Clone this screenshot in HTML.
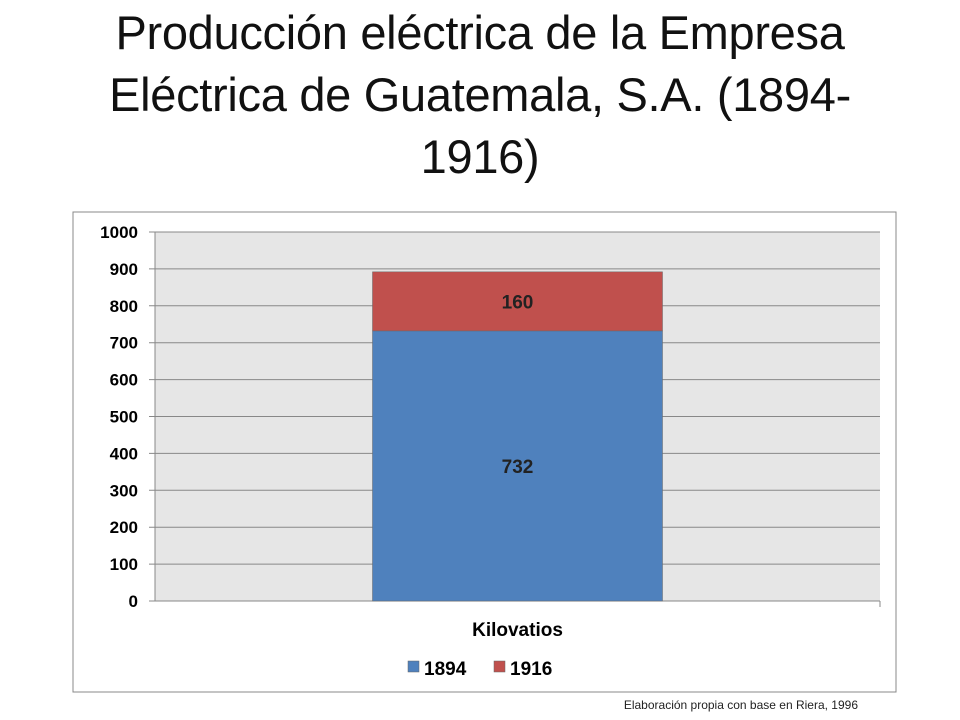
<!DOCTYPE html>
<html><head><meta charset="utf-8"><style>
body{margin:0;background:#fff;width:960px;height:720px;overflow:hidden;font-family:"Liberation Sans",sans-serif}
#title{position:absolute;left:0;top:2px;width:960px;text-align:center;font-size:47px;line-height:62px;color:#111;letter-spacing:-0.3px}
</style></head><body>
<div id="title">Producción eléctrica de la Empresa<br>Eléctrica de Guatemala, S.A. (1894-<br>1916)</div>
<svg id="chart" width="960" height="720" style="position:absolute;left:0;top:0"></svg>
<script>
const categories=["Kilovatios"];
const seriesNames=["1894","1916"];
const series1894=[732];
const series1916=[160];
const yTicks=[0,100,200,300,400,500,600,700,800,900,1000];
const colors=["#4f81bd","#c0504d"];
const NS="http://www.w3.org/2000/svg";
const svg=document.getElementById('chart');
function mk(t,a,txt){const e=document.createElementNS(NS,t);for(const k in a)e.setAttribute(k,a[k]);if(txt!==undefined)e.textContent=txt;svg.appendChild(e);return e;}
const px0=155,px1=880,py0=601,py1=232;
const y=v=>py0-(v/1000)*(py0-py1);
const bw=(px1-px0)/categories.length;
const x=i=>px0+bw*i;
let e=mk('rect',{x:73,y:212,width:823,height:480,fill:'#fff',stroke:'#888','stroke-width':1});

e=mk('rect',{x:px0,y:py1,width:px1-px0,height:py0-py1,fill:'#e6e6e6'});

yTicks.forEach(t=>{
 let g=mk('line',{x1:px0-6,x2:px1,y1:y(t),y2:y(t),stroke:'#888','stroke-width':1});
 
 let l=mk('text',{x:138,y:y(t)+6,'text-anchor':'end','font-size':17,'font-weight':'bold',fill:'#000'},t);
 
});
e=mk('line',{x1:px0,x2:px0,y1:py1,y2:py0,stroke:'#888'});
e=mk('line',{x1:px1,x2:px1,y1:py0,y2:py0+6,stroke:'#888'});
categories.forEach((c,i)=>{
 const w=bw*0.4,bx=x(i)+bw*0.3;
 const vals=[series1894[i],series1916[i]];let base=0;
 vals.forEach((v,s)=>{
  const r=mk('rect',{x:bx,y:y(base+v),width:w,height:y(base)-y(base+v),fill:colors[s],stroke:'#666','stroke-width':0.5});
  
  const t=mk('text',{x:bx+w/2,y:(y(base)+y(base+v))/2+7,'text-anchor':'middle','font-size':19,'font-weight':'bold',fill:'#222'},v);
  
  base+=v;
 });
 const cl=mk('text',{x:x(i)+bw/2,y:636,'text-anchor':'middle','font-size':19,'font-weight':'bold',fill:'#000'},c);
 
});
seriesNames.forEach((n,s)=>{
 const lx=408+s*86;
 const sw=mk('rect',{x:lx,y:661,width:11,height:11,fill:colors[s],stroke:'#666','stroke-width':0.5});
 
 const lt=mk('text',{x:lx+16,y:675,'font-size':19,'font-weight':'bold',fill:'#000'},n);
 
});
e=mk('text',{x:858,y:709,'text-anchor':'end','font-size':12,fill:'#222'},'Elaboración propia con base en Riera, 1996');

</script>
</body></html>
